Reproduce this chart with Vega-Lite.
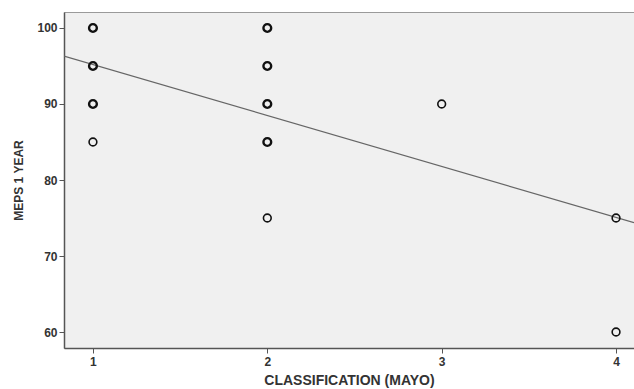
{
  "$schema": "https://vega.github.io/schema/vega-lite/v6.json",
  "width": 570,
  "height": 336,
  "autosize": {"type": "none"},
  "padding": {"left": 64, "top": 12, "right": 0, "bottom": 41},
  "background": "white",
  "config": {
    "view": {"fill": "#f0f0f0", "stroke": "#9a9a9a", "strokeWidth": 1},
    "axis": {
      "labelFont": "Liberation Sans",
      "labelFontWeight": "bold",
      "labelFontSize": 12,
      "labelColor": "#333333",
      "titleFont": "Liberation Sans",
      "titleFontWeight": "bold",
      "titleFontSize": 14,
      "titleColor": "#333333",
      "domainColor": "#555555",
      "domainWidth": 1.5,
      "tickColor": "#555555",
      "tickSize": 5,
      "tickWidth": 1,
      "grid": false
    }
  },
  "datasets": {
    "points": [
      {"classification": 1, "meps": 100, "n": 2},
      {"classification": 1, "meps": 95, "n": 2},
      {"classification": 1, "meps": 90, "n": 2},
      {"classification": 1, "meps": 85, "n": 1},
      {"classification": 2, "meps": 100, "n": 2},
      {"classification": 2, "meps": 95, "n": 2},
      {"classification": 2, "meps": 90, "n": 2},
      {"classification": 2, "meps": 85, "n": 2},
      {"classification": 2, "meps": 75, "n": 1},
      {"classification": 3, "meps": 90, "n": 1},
      {"classification": 4, "meps": 75, "n": 1},
      {"classification": 4, "meps": 60, "n": 1}
    ],
    "fit": [
      {"classification": 0.834, "meps": 96.3},
      {"classification": 4.103, "meps": 74.4}
    ]
  },
  "layer": [
    {
      "data": {"name": "fit"},
      "mark": {"type": "line", "color": "#666666", "strokeWidth": 1.2, "clip": true},
      "encoding": {
        "x": {"field": "classification", "type": "quantitative",
              "scale": {"domain": [0.834, 4.103], "nice": false, "zero": false},
              "axis": {"values": [1, 2, 3, 4], "format": "d", "title": "CLASSIFICATION (MAYO)", "titlePadding": 6, "labelPadding": 3}},
        "y": {"field": "meps", "type": "quantitative",
              "scale": {"domain": [57.9, 102.1], "nice": false, "zero": false},
              "axis": {"values": [60, 70, 80, 90, 100], "format": "d", "title": "MEPS 1 YEAR", "titleFontSize": 12, "titlePadding": 11, "labelPadding": 2}}
      }
    },
    {
      "data": {"name": "points"},
      "mark": {"type": "point", "shape": "circle", "filled": false, "color": "#111111", "size": 60, "opacity": 1},
      "encoding": {
        "x": {"field": "classification", "type": "quantitative"},
        "y": {"field": "meps", "type": "quantitative"},
        "strokeWidth": {"field": "n", "type": "quantitative", "scale": {"domain": [1, 2], "range": [1.6, 2.4]}, "legend": null}
      }
    }
  ]
}
